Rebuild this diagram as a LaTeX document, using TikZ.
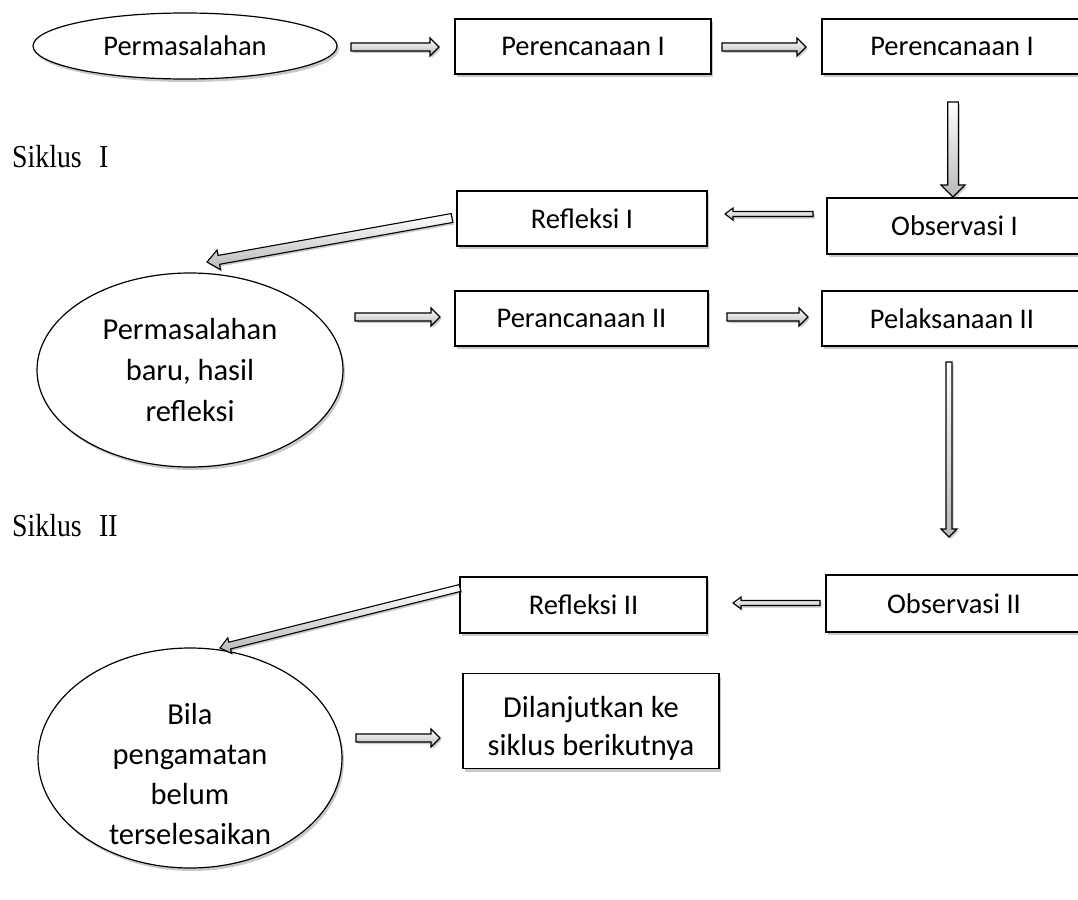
\documentclass[tikz,border=0pt]{standalone}
\usepackage{fontspec}
\setmainfont{Carlito}
\newfontfamily\sikfont{Liberation Serif}
\usepackage{graphicx}
\usetikzlibrary{shapes.geometric,shadows,calc}

\tikzset{
  shd/.style={drop shadow={shadow xshift=2pt, shadow yshift=-3pt, opacity=0.3, fill=black!70}},
  box/.style={draw, line width=1.3pt, rectangle, fill=white, inner sep=0pt, shd,
    font=\fontsize{28.5}{41}\selectfont},
  oval/.style={draw, line width=1.2pt, ellipse, fill=white, inner sep=0pt, shd,
    align=center, font=\fontsize{28.5}{41}\selectfont},
  bigtxt/.style={font=\fontsize{30.5}{41}\selectfont},
  txt/.style={align=center, inner sep=0pt, font=\fontsize{30.5}{40}\selectfont},
  sik/.style={inner sep=0pt, font=\sikfont\fontsize{32}{36}\selectfont},
  barr/.style={draw, line width=1.1pt, line join=miter, top color=white, bottom color=gray!55,
    drop shadow={shadow xshift=1.5pt, shadow yshift=-2pt, opacity=0.3, fill=black!70}},
}

% #1 from, #2 to, #3 shaft half width, #4 head half width, #5 head length
\newcommand{\blockarr}[5]{%
  \path ($(#2)!#5!(#1)$) coordinate (hb);
  \draw[barr] ($(#1)!#3!90:(#2)$) -- ($(hb)!#3!-90:(#1)$) -- ($(hb)!#4!-90:(#1)$)
    -- (#2) -- ($(hb)!#4!90:(#1)$) -- ($(hb)!#3!90:(#1)$) -- ($(#1)!#3!-90:(#2)$) -- cycle;
}

\begin{document}
\begin{tikzpicture}[x=1pt, y=-1pt]
\useasboundingbox (0,0) rectangle (1078,899);
\clip (0,0) rectangle (1078,899);

% nodes
\node[oval, minimum width=304pt, minimum height=66pt] (perm) at (185,46) {Permasalahan};
\node[box, minimum width=256pt, minimum height=55pt] (pr1) at (583,46.5) {Perencanaan I};
\node[box, minimum width=260pt, minimum height=55pt] (pr2) at (952,46.5) {Perencanaan I};

\node[sik, anchor=base west] (sik1) at (12,167) {\scalebox{0.87}[1]{Siklus\hspace{20pt}I}};

\node[box, minimum width=255pt, minimum height=56pt] (obs1) at (954.5,226) {Observasi I};
\node[box, minimum width=250pt, minimum height=55pt] (ref1) at (582,218.5) {Refleksi I};

\node[oval, bigtxt, minimum width=306pt, minimum height=194pt] (permb) at (190,370)
  {Permasalahan\\baru, hasil\\refleksi};
\node[box, minimum width=253pt, minimum height=55pt] (pran2) at (581.5,318.5) {Perancanaan II};
\node[box, minimum width=260pt, minimum height=55pt] (pel2) at (952,318.5) {Pelaksanaan II};

\node[sik, anchor=base west] (sik2) at (12,536) {\scalebox{0.87}[1]{Siklus\hspace{20pt}II}};

\node[box, minimum width=256pt, minimum height=57pt] (obs2) at (954,603.5) {Observasi II};
\node[box, minimum width=247pt, minimum height=56pt] (ref2) at (583.5,605) {Refleksi II};

\node[oval, minimum width=304pt, minimum height=220pt] (bila) at (190,758) {};
\node[txt] (bilat) at (190,774) {Bila\\pengamatan\\belum\\terselesaikan};

\node[box, anchor=north, minimum width=256pt, align=center,
  font=\fontsize{30.5}{38}\selectfont] (lanjut) at (591,673)
  {\rule{0pt}{44pt}Dilanjutkan ke\\siklus berikutnya\rule[-13pt]{0pt}{0pt}};

% connector end points
\coordinate (a1s) at (351,47);   \coordinate (a1e) at (439,47);
\coordinate (a2s) at (722,47);   \coordinate (a2e) at (806,47);
\coordinate (a3s) at (953,102);  \coordinate (a3e) at (953,197);
\coordinate (a4s) at (813,214);  \coordinate (a4e) at (725,214);
\coordinate (a5s) at (452,218);  \coordinate (a5e) at (207,262);
\coordinate (a6s) at (355,317);  \coordinate (a6e) at (440,317);
\coordinate (a7s) at (727,317);  \coordinate (a7e) at (808,317);
\coordinate (a8s) at (949,362);  \coordinate (a8e) at (949,537);
\coordinate (a9s) at (820,603);  \coordinate (a9e) at (733,603);
\coordinate (a10s) at (460,588); \coordinate (a10e) at (220,648);
\coordinate (a11s) at (356,738); \coordinate (a11e) at (440,738);

% connectors
\blockarr{a1s}{a1e}{4pt}{9pt}{9pt}
\blockarr{a2s}{a2e}{4pt}{9pt}{9pt}
\blockarr{a3s}{a3e}{5.3pt}{12pt}{12pt}
\blockarr{a4s}{a4e}{2.5pt}{6pt}{8pt}
\blockarr{a5s}{a5e}{4.5pt}{10pt}{12pt}
\blockarr{a6s}{a6e}{4pt}{9pt}{9pt}
\blockarr{a7s}{a7e}{4pt}{9pt}{9pt}
\blockarr{a8s}{a8e}{3pt}{8pt}{8pt}
\blockarr{a9s}{a9e}{2.5pt}{6pt}{8pt}
\blockarr{a10s}{a10e}{3.5pt}{8pt}{10pt}
\blockarr{a11s}{a11e}{4pt}{9pt}{9pt}
\end{tikzpicture}
\end{document}
